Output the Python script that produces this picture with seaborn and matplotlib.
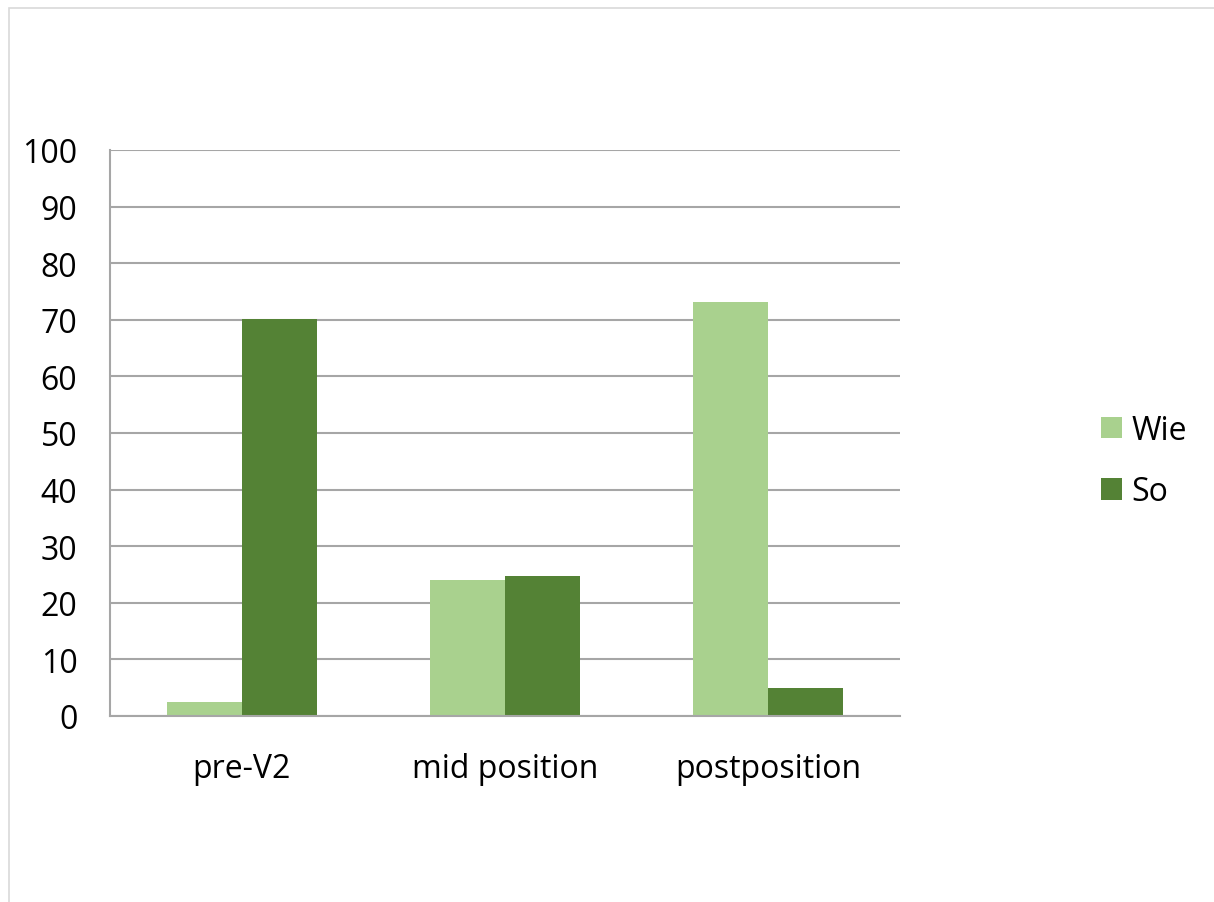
import matplotlib
matplotlib.use("Agg")
import pandas as pd
import seaborn as sns
from matplotlib import pyplot as plt
from matplotlib.patches import Rectangle

categories = ["pre-V2", "mid position", "postposition"]
series = ["Wie", "So"]
wie_values = [2.5, 24.1, 73.2]
so_values = [70.1, 24.8, 4.9]
y_ticks = list(range(0, 101, 10))

COLORS = {"Wie": "#A9D18E", "So": "#548235"}
GRID = "#A6A6A6"
W, H = 1214, 903
FS = 23

df = pd.DataFrame(
    {
        "category": categories * 2,
        "series": ["Wie"] * 3 + ["So"] * 3,
        "value": wie_values + so_values,
    }
)

sns.set_theme(style="white")
plt.rcParams["font.family"] = ["Open Sans", "DejaVu Sans"]
plt.rcParams["text.color"] = "black"
plt.rcParams["xtick.color"] = "black"
plt.rcParams["ytick.color"] = "black"

fig = plt.figure(figsize=(W / 100, H / 100), dpi=100)
ax = fig.add_axes([110 / W, 1 - 717 / H, 790 / W, 566 / H])

sns.barplot(
    data=df,
    x="category",
    y="value",
    hue="series",
    order=categories,
    hue_order=series,
    palette=COLORS,
    saturation=1,
    width=0.57,
    gap=0,
    edgecolor="none",
    linewidth=0,
    errorbar=None,
    legend=True,
    ax=ax,
)

ax.set_xlim(-0.5, 2.5)
ax.set_ylim(0, 100)
ax.set_yticks(y_ticks)
ax.set_xlabel("")
ax.set_ylabel("")
ax.yaxis.grid(True, color=GRID, linewidth=1.5)
ax.set_axisbelow(True)

# category boundaries as major ticks, labels on minor ticks at centers
ax.set_xticks([-0.5, 0.5, 1.5, 2.5])
ax.set_xticklabels([])
ax.set_xticks(range(len(categories)), minor=True)
ax.set_xticklabels(categories, minor=True)
ax.tick_params(axis="x", which="major", length=9, width=1.2, color=GRID, direction="out")
ax.tick_params(axis="x", which="minor", length=0, pad=26, labelsize=FS, labelcolor="black")
ax.tick_params(axis="y", length=7.5, width=1.2, color=GRID, direction="out", pad=16,
               labelsize=FS, labelcolor="black")

for side in ("top", "right"):
    ax.spines[side].set_visible(False)
for side in ("left", "bottom"):
    ax.spines[side].set_color(GRID)
    ax.spines[side].set_linewidth(1.5)

handles, labels = ax.get_legend_handles_labels()
ax.get_legend().remove()
leg = fig.legend(
    handles,
    labels,
    loc="center left",
    bbox_to_anchor=(1101 / W, 1 - 462 / H),
    frameon=False,
    fontsize=FS,
    handlelength=0.66,
    handleheight=0.66,
    handletextpad=0.3,
    labelspacing=0.88,
    borderpad=0,
    borderaxespad=0,
)
for t in leg.get_texts():
    t.set_color("black")

fig.patches.append(
    Rectangle(
        (8.5 / W, -0.5),
        1.2,
        1.5 - 8.5 / H,
        transform=fig.transFigure,
        fill=False,
        edgecolor="#D9D9D9",
        linewidth=1.2,
    )
)

fig.savefig("out.png", dpi=100)
